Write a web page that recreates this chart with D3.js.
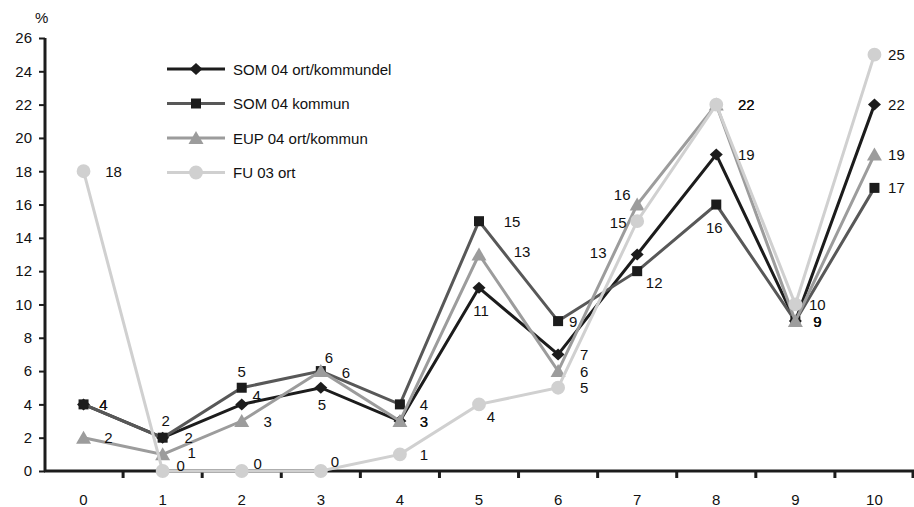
<!DOCTYPE html>
<html>
<head>
<meta charset="utf-8">
<script src="https://cdn.jsdelivr.net/npm/d3@7"></script>
<style>
  body { margin: 0; background: #fff; }
  svg text { font-family: "Liberation Sans", Arial, sans-serif; fill: #111; }
</style>
</head>
<body>
<div id="chart"></div>
<script>
// Data
const categories = [0, 1, 2, 3, 4, 5, 6, 7, 8, 9, 10];
const seriesNames = ["SOM 04 ort/kommundel", "SOM 04 kommun", "EUP 04 ort/kommun", "FU 03 ort"];
const somOrt     = [4, 2, 4, 5, 3, 11, 7, 13, 19, 9, 22];
const somKommun  = [4, 2, 5, 6, 4, 15, 9, 12, 16, 9, 17];
const eupOrt     = [2, 1, 3, 6, 3, 13, 6, 16, 22, 9, 19];
const fuOrt      = [18, 0, 0, 0, 1, 4, 5, 15, 22, 10, 25];
const yTicks = [0, 2, 4, 6, 8, 10, 12, 14, 16, 18, 20, 22, 24, 26];

// Styling per series
const styles = [
  { line: "#1c1c1c", fill: "#1c1c1c", shape: "diamond" },
  { line: "#585858", fill: "#1c1c1c", shape: "square" },
  { line: "#9c9c9c", fill: "#9c9c9c", shape: "triangle" },
  { line: "#d0d0d0", fill: "#d0d0d0", shape: "circle" }
];

// Label offsets (dx, dy) relative to each point
const labelOffsets = [
  [[20,0],[26,0],[15,-9],[1,17],[24,0],[2,23],[26,0],[-39,-2],[30,0],[22,0],[22,0]],
  [[20,0],[3,-17],[0,-16],[8,-14],[24,0],[33,0],[15,0],[17,11],[-2,23],[22,0],[22,0]],
  [[25,0],[29,-2],[26,0],[25,1],[24,0],[43,-3],[26,0],[-15,-10],[30,0],[22,0],[22,0]],
  [[30,0],[18,-6],[16,-8],[14,-10],[24,0],[12,12],[26,0],[-19,1],[30,0],[22,0],[22,0]]
];

const width = 914, height = 507;
const fontSize = 15;
const svg = d3.select("#chart").append("svg")
  .attr("width", width).attr("height", height);

const x = d3.scaleBand().domain(categories).range([44, 914]).padding(0);
const cx = d => x(d) + x.bandwidth() / 2;
const y = d3.scaleLinear().domain([0, 26]).range([471, 38]);

// Y axis
const yAxis = svg.append("g").attr("transform", "translate(45,0)")
  .call(d3.axisLeft(y).tickValues(yTicks).tickSize(6).tickPadding(7));
yAxis.select(".domain").attr("stroke", "#1c1c1c").attr("stroke-width", 3)
  .attr("d", `M0,${y(26)}V${y(0)}`);
yAxis.selectAll(".tick line").attr("stroke", "#1c1c1c").attr("stroke-width", 2);
yAxis.selectAll(".tick text").attr("font-size", fontSize).attr("fill", "#111")
  .style("font-family", "'Liberation Sans', Arial, sans-serif");

svg.append("text").attr("x", 35).attr("y", 23).attr("font-size", fontSize).text("%");

// X axis
const xAxisG = svg.append("g").attr("transform", `translate(0,${y(0)})`);
xAxisG.append("line").attr("x1", 44).attr("x2", 914).attr("y1", 0).attr("y2", 0)
  .attr("stroke", "#1c1c1c").attr("stroke-width", 3);
xAxisG.selectAll(".xt").data(categories.slice(1).concat(["end"])).enter()
  .append("line")
  .attr("x1", d => d === "end" ? 913 : x(d)).attr("x2", d => d === "end" ? 913 : x(d))
  .attr("y1", 0).attr("y2", 7).attr("stroke", "#1c1c1c").attr("stroke-width", 3);
xAxisG.selectAll(".xl").data(categories).enter().append("text")
  .attr("x", d => cx(d)).attr("y", 34).attr("text-anchor", "middle")
  .attr("font-size", fontSize).text(d => d);

// Markers
function marker(sel, shape, fill) {
  if (shape === "diamond") {
    sel.append("path").attr("d", "M0,-6L6.5,0L0,6L-6.5,0Z").attr("fill", fill);
  } else if (shape === "square") {
    sel.append("rect").attr("x", -5).attr("y", -5).attr("width", 10).attr("height", 10).attr("fill", fill);
  } else if (shape === "triangle") {
    sel.append("path").attr("d", "M0,-7L7.5,6L-7.5,6Z").attr("fill", fill);
  } else {
    sel.append("path").attr("d", d3.symbol(d3.symbolCircle, 150)()).attr("fill", fill);
  }
}

const allSeries = [somOrt, somKommun, eupOrt, fuOrt];
const line = d3.line().x((d, i) => cx(categories[i])).y(d => y(d));

allSeries.forEach((vals, s) => {
  const st = styles[s];
  const g = svg.append("g");
  g.append("path").datum(vals).attr("d", line)
    .attr("fill", "none").attr("stroke", st.line).attr("stroke-width", 3)
    .attr("stroke-linejoin", "miter");
  vals.forEach((v, i) => {
    const m = g.append("g").attr("transform", `translate(${cx(categories[i])},${y(v)})`);
    marker(m, st.shape, st.fill);
  });
});

// Data labels
allSeries.forEach((vals, s) => {
  svg.append("g").selectAll("text").data(vals).enter().append("text")
    .attr("x", (d, i) => cx(categories[i]) + labelOffsets[s][i][0])
    .attr("y", (d, i) => y(d) + labelOffsets[s][i][1] + 5.5)
    .attr("text-anchor", "middle")
    .attr("font-size", fontSize)
    .text(d => d);
});

// Legend
const legend = svg.append("g");
seriesNames.forEach((name, s) => {
  const ly = 69 + s * 34.5;
  const st = styles[s];
  legend.append("line").attr("x1", 167).attr("x2", 225).attr("y1", ly).attr("y2", ly)
    .attr("stroke", st.line).attr("stroke-width", 3);
  const m = legend.append("g").attr("transform", `translate(196,${ly})`);
  marker(m, st.shape, st.fill);
  legend.append("text").attr("x", 233).attr("y", ly + 5.5).attr("font-size", fontSize).text(name);
});
</script>
</body>
</html>
